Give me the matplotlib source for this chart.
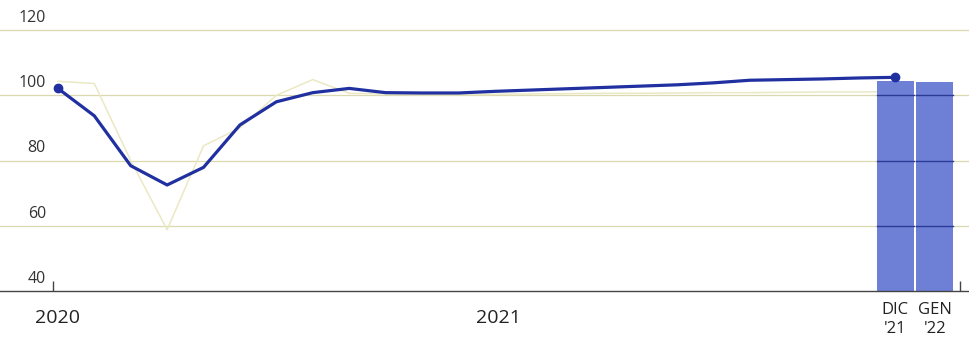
import matplotlib.pyplot as plt
import matplotlib.transforms as mtransforms

# ==========================================
# DATA (monthly index, Jan 2020 = month 0)
# ==========================================

months = list(range(24))  # Jan 2020 ... Dec 2021

main_index = [102.1, 93.7, 78.4, 72.5, 77.9, 90.9, 98.0, 100.8, 102.1, 100.8, 100.7, 100.7,
              101.2, 101.6, 102.0, 102.4, 102.8, 103.2, 103.8, 104.6, 104.8, 105.0, 105.3, 105.5]

faint_index = [104.3, 103.6, 80.0, 58.8, 84.5, 90.0, 100.0, 104.8, 100.6, 100.4, 100.2, 100.2,
               100.3, 100.4, 100.5, 100.6, 100.6, 100.7, 100.8, 100.8, 100.9, 101.0, 101.0, 101.1]

bar_labels = ["DIC\n'21", "GEN\n'22"]
bar_pos = [23, 24.08]
bar_values = [104.5, 104.1]

year_labels = ["2020", "2021"]
year_pos = [0, 12.1]

yticks = [40, 60, 80, 100, 120]

# ==========================================
# FIGURE
# ==========================================

plt.rcParams["font.family"] = ["Open Sans", "DejaVu Sans"]

fig = plt.figure(figsize=(9.7, 3.43), dpi=100)
ax = fig.add_axes([0.0, 0.1516, 1.0, 0.8484])
ax.set_xlim(-1.59, 25.05)
ax.set_ylim(40, 129.2)

# gridlines
for v in yticks[1:]:
    ax.axhline(v, color="#dcd9b0", lw=0.9, zorder=1)

# faint second series (sits under the bars)
ax.plot(months, faint_index, color="#ebe8c4", lw=1.1, zorder=1.5)

# bars
ax.bar(bar_pos, [b - 40 for b in bar_values], bottom=40, width=1.0,
       color="#6e80d6", edgecolor="none", zorder=2)
for p, bv in zip(bar_pos, bar_values):
    for v in yticks[1:]:
        if v < bv:
            ax.plot([p - 0.5, p + 0.5], [v, v], color="#2b3a95", lw=1.0, zorder=3)

# main line
ax.plot(months, main_index, color="#2030a0", lw=2.3, zorder=4, solid_capstyle="round")
ax.plot([months[0], months[-1]], [main_index[0], main_index[-1]], "o",
        color="#2030a0", ms=6, zorder=5)

# axes styling
for s in ["top", "right", "left"]:
    ax.spines[s].set_visible(False)
ax.spines["bottom"].set_color("#444444")
ax.spines["bottom"].set_linewidth(1.0)
ax.set_yticks([])
ax.set_xticks([-0.14, bar_pos[-1] + 0.7])
ax.set_xticklabels([])
ax.tick_params(axis="x", direction="in", length=7, width=1.0, color="#444444")

# y labels above gridlines
trans = mtransforms.blended_transform_factory(fig.transFigure, ax.transData)
for v in yticks:
    ax.annotate(str(v), xy=(46 / 970, v), xycoords=trans, xytext=(0, 3),
                textcoords="offset points", ha="right", va="bottom",
                fontsize=11.5, color="#333333")

# x labels
for lab, p in zip(year_labels, year_pos):
    ax.annotate(lab, xy=(p, 40), xycoords="data", xytext=(0, -13),
                textcoords="offset points", ha="center", va="top",
                fontsize=14, color="#222222")
for lab, p in zip(bar_labels, bar_pos):
    ax.annotate(lab, xy=(p, 40), xycoords="data", xytext=(0, -8),
                textcoords="offset points", ha="center", va="top",
                fontsize=12, color="#222222", linespacing=1.25)

fig.savefig("out.png", dpi=100)
